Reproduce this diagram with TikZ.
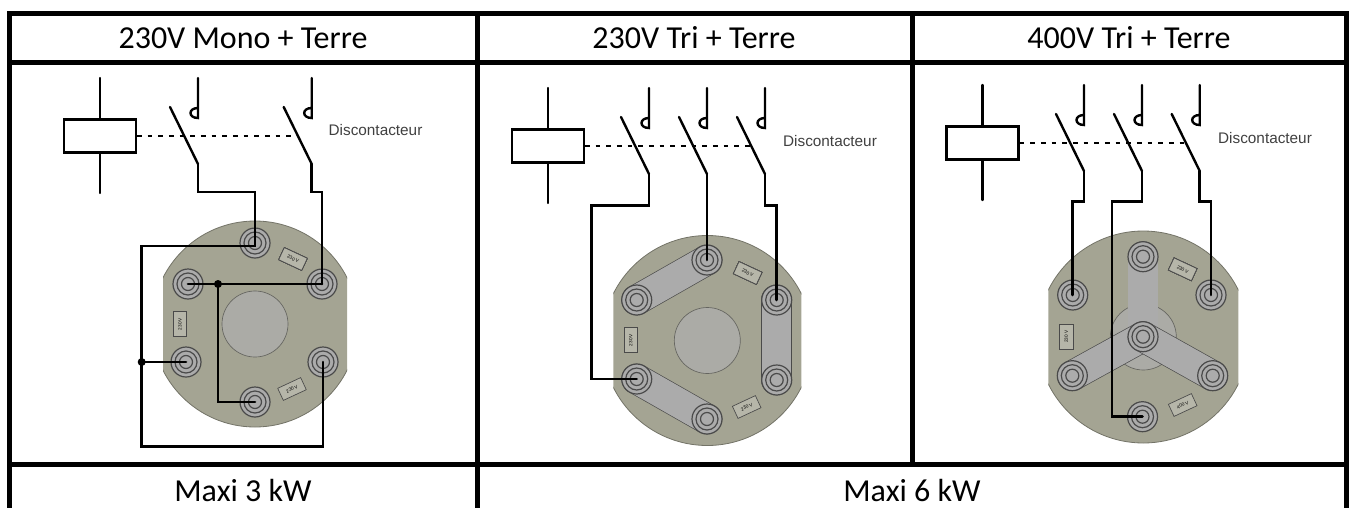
\documentclass[tikz,border=0pt]{standalone}
\usepackage{fontspec}
\setmainfont{Carlito}
\newfontfamily\schemafont{Liberation Sans}
\definecolor{plaquecol}{HTML}{A4A493}
\definecolor{trou}{HTML}{ABABA6}
\definecolor{barre}{HTML}{ABABAB}
\definecolor{ecrou}{HTML}{4A4A4A}
\tikzset{
	titre/.style={font=\fontsize{24}{28}\selectfont,anchor=center},
	cadre/.style={line width=3.75pt,line cap=rect},
	fil/.style={line width=2pt,line cap=round,line join=miter},
	trait/.style={line width=1.8pt,line cap=round},
	plaque/.style={fill=plaquecol,draw=plaquecol!70!black,line width=0.6pt},
	borne/.style={circle,minimum size=22.5pt,inner sep=0pt,fill=barre,draw=ecrou,line width=0.9pt},
	bague/.style={draw=ecrou,line width=0.9pt},
	barrette/.style={line width=0.5pt,double=barre,double distance=22pt,draw=ecrou,line cap=round},
	etiquette/.style={rectangle,draw=ecrou,fill=plaquecol!80!white,line width=0.5pt,minimum width=19pt,minimum height=10pt,inner sep=0pt,font=\schemafont\fontsize{3.5}{4}\selectfont},
	legende/.style={font=\schemafont\fontsize{11.5}{13}\selectfont,text=black!75,anchor=center}
}
\newcommand{\borneA}[2]{
	\node[borne] (#1) at (#2) {};
	\draw[bague] (#1.center) circle[radius=11];
	\draw[bague] (#1.center) circle[radius=6.5];
}
\newcommand{\plaqueA}[4]{
	\begin{scope}
		\clip (#1-#4, #2-#3-2) rectangle (#1+#4, #2+#3+2);
		\draw[plaque] (#1, #2) circle[radius=#3];
	\end{scope}
	\fill[trou] (#1, #2) circle[radius=33];
	\draw[ecrou!70!plaquecol,line width=0.5pt] (#1, #2) circle[radius=33];
}
\newcommand{\contactA}[3]{
	\coordinate (#1) at (#2, #3+86);
	\draw[trait] (#2, #3) -- (#2, #3+40) .. controls (#2-10, #3+40) and (#2-10, #3+30) .. (#2, #3+30);
	\draw[trait] (#2-28, #3+29) -- (#1);
}
\newcommand{\bobineA}[4]{
	\node[rectangle,draw,line width=1.8pt,minimum width=54pt,minimum height=25pt,inner sep=0pt] (#1) at (#2, #3+58) {};
	\draw[trait] (#2, #3) -- (#1.north);
	\draw[trait] (#1.south) -- (#2, #3+115);
	\coordinate (#1fin) at (#4, #3+58);
	\draw[line width=1.8pt,dash pattern=on 3.5pt off 4.5pt] (#1.east) -- (#1fin);
}
\begin{document}
\begin{tikzpicture}[x=0.75pt,y=-0.75pt]
		\useasboundingbox (0, 0) rectangle (1352, 507);
		\draw[cadre] (9.5, 507) -- (9.5, 13) -- (1346.5, 13) -- (1346.5, 507);
		\draw[cadre] (9.5, 62.5) -- (1346.5, 62.5);
		\draw[cadre] (9.5, 464) -- (1346.5, 464);
		\draw[cadre] (477.5, 13) -- (477.5, 507);
		\draw[cadre] (912, 13) -- (912, 464);
		\node[titre] (t1) at (243, 38) {230V Mono + Terre};
		\node[titre] (t2) at (694, 38) {230V Tri + Terre};
		\node[titre] (t3) at (1129, 38) {400V Tri + Terre};
		\node[titre] (m1) at (243, 490) {Maxi 3 kW};
		\node[titre] (m2) at (912, 490) {Maxi 6 kW};

		\plaqueA{255}{324}{103}{92}
		\foreach \nom/\pos in {a1/{255,243},a2/{188,284},a3/{322,284},a4/{186,362},a5/{323,362},a6/{255,402}}
			\borneA{\nom}{\pos}
		\node[etiquette,rotate=-25] (ea1) at (293, 259) {230 V};
		\node[etiquette,rotate=90] (ea2) at (180, 324) {230 V};
		\node[etiquette,rotate=25] (ea3) at (292, 389) {230 V};
		\bobineA{ba}{99.7}{78}{297}
		\contactA{ca1}{198}{78}
		\contactA{ca2}{311.7}{78}
		\node[legende] (la) at (375.5, 130) {Discontacteur};
		\coordinate (ja) at (141.7, 362);
		\coordinate (jb) at (218, 284);
		\draw[fil] (ca1) -- (198, 192) -| (a1.center) -- (255, 246) -- (141.7, 246) -- (141.7, 446.7) -| (a5.center);
		\draw[fil] (ca2) -- (311.7, 192) -| (a3.center);
		\draw[fil] (a2.center) -- (a3.center);
		\draw[fil] (jb) |- (a6.center);
		\draw[fil] (ja) -- (a4.center);
		\fill (ja) circle[radius=4];
		\fill (jb) circle[radius=4];

		\plaqueA{707.3}{340.5}{105}{94}
		\draw[barrette] (707, 260) -- (636.7, 300);
		\draw[barrette] (776.7, 300) -- (776.7, 380);
		\draw[barrette] (636.7, 379) -- (707, 419);
		\foreach \nom/\pos in {b1/{707,260},b2/{636.7,300},b3/{776.7,300},b4/{636.7,379},b5/{776.7,380},b6/{707,419}}
			\borneA{\nom}{\pos}
		\node[etiquette,rotate=-25] (eb1) at (747.7, 273) {230 V};
		\node[etiquette,rotate=90] (eb2) at (630.7, 340) {230 V};
		\node[etiquette,rotate=25] (eb3) at (746.7, 407) {230 V};
		\bobineA{bb}{547.7}{88}{750}
		\contactA{cb1}{649}{88}
		\contactA{cb2}{707}{88}
		\contactA{cb3}{765}{88}
		\node[legende] (lb) at (830, 141) {Discontacteur};
		\draw[fil] (cb1) -- (649, 205.7) -| (591.3, 379) -- (b4.center);
		\draw[fil] (cb2) -- (b1.center);
		\draw[fil] (cb3) -- (765, 205.7) -| (b3.center);

		\plaqueA{1143.3}{337}{106}{95}
		\draw[barrette] (1143, 256.7) -- (1143, 336.7);
		\draw[barrette] (1143, 336.7) -- (1072.3, 375.7);
		\draw[barrette] (1143, 336.7) -- (1212.7, 375.7);
		\foreach \nom/\pos in {d1/{1143,256.7},d2/{1072.7,295},d3/{1211,295},d4/{1143,336.7},d5/{1072.3,375.7},d6/{1212.7,375.7},d7/{1142.5,416.7}}
			\borneA{\nom}{\pos}
		\node[etiquette,rotate=-25] (ed1) at (1182.7, 269.3) {230 V};
		\node[etiquette,rotate=90] (ed2) at (1066.3, 336.7) {230 V};
		\node[etiquette,rotate=25] (ed3) at (1182.7, 405) {400 V};
		\bobineA{bd}{982.3}{85}{1184}
		\contactA{cd1}{1084}{85}
		\contactA{cd2}{1142}{85}
		\contactA{cd3}{1199.7}{85}
		\node[legende] (ld) at (1265, 137.7) {Discontacteur};
		\draw[fil] (cd1) -- (1084, 201.7) -| (d2.center);
		\draw[fil] (cd2) -- (1142, 201.7) -| (1112, 416.7) -- (d7.center);
		\draw[fil] (cd3) -- (1199.7, 201.7) -| (d3.center);
\end{tikzpicture}
\end{document}
